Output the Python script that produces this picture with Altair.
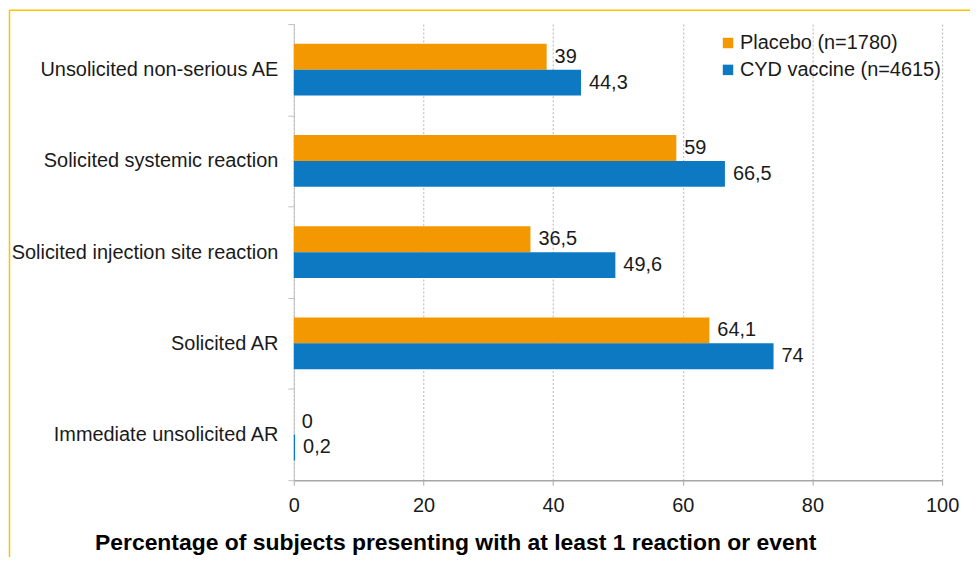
import altair as alt
import pandas as pd

categories = [
    "Unsolicited non-serious AE",
    "Solicited systemic reaction",
    "Solicited injection site reaction",
    "Solicited AR",
    "Immediate unsolicited AR",
]
series = ["Placebo (n=1780)", "CYD vaccine (n=4615)"]
placebo = [39, 59, 36.5, 64.1, 0]
cyd = [44.3, 66.5, 49.6, 74, 0.2]
placebo_labels = ["39", "59", "36,5", "64,1", "0"]
cyd_labels = ["44,3", "66,5", "49,6", "74", "0,2"]
colors = ["#F39800", "#0E79C3"]
x_ticks = [0, 20, 40, 60, 80, 100]
x_title = "Percentage of subjects presenting with at least 1 reaction or event"

rows = []
for c, v, l in zip(categories, placebo, placebo_labels):
    rows.append({"category": c, "series": series[0], "value": v, "label": l})
for c, v, l in zip(categories, cyd, cyd_labels):
    rows.append({"category": c, "series": series[1], "value": v, "label": l})
df = pd.DataFrame(rows)

y_enc = alt.Y(
    "category:N",
    sort=categories,
    scale=alt.Scale(paddingInner=0, paddingOuter=0),
    axis=alt.Axis(
        title=None,
        tickBand="extent",
        labelFontSize=20,
        labelColor="#1a1a1a",
        labelPadding=10,
        tickSize=6,
        tickColor="#c0c0c0",
        domainColor="#c0c0c0",
        labelLimit=400,
        grid=False,
    ),
)
x_enc = alt.X(
    "value:Q",
    scale=alt.Scale(domain=[0, 100]),
    axis=alt.Axis(
        values=x_ticks,
        title=x_title,
        titleFontSize=23,
        titleFontWeight="bold",
        titleColor="#000000",
        titleX=162,
        titleY=70,
        titleAlign="center",
        titleBaseline="alphabetic",
        labelFontSize=20,
        labelColor="#1a1a1a",
        labelPadding=10,
        labelFlush=False,
        tickSize=5,
        tickColor="#a6a6a6",
        domainColor="#a6a6a6",
        domainWidth=1.5,
        grid=True,
        gridColor="#b5b5b5",
        gridDash=[2, 2],
    ),
)
yoff_scale = alt.Scale(domain=series, paddingInner=0, paddingOuter=0.762)
yoff = alt.YOffset("series:N", sort=series, scale=yoff_scale)
color = alt.Color(
    "series:N",
    scale=alt.Scale(domain=series, range=colors),
    legend=alt.Legend(
        title=None,
        orient="none",
        legendX=426,
        legendY=9,
        labelFontSize=20,
        labelColor="#1a1a1a",
        labelLimit=400,
        symbolType="square",
        symbolSize=110,
        symbolStrokeWidth=0,
        rowPadding=7,
        labelOffset=2,
    ),
)

base = alt.Chart(df)
bars = base.mark_bar().encode(x=x_enc, y=y_enc, yOffset=yoff, color=color)
texts = base.mark_text(align="left", baseline="middle", dx=8, fontSize=20, color="#1a1a1a").encode(
    x="value:Q",
    y=alt.Y("category:N", sort=categories),
    yOffset=alt.YOffset("series:N", sort=series),
    text="label:N",
)

frame_df = pd.DataFrame({"k": [0]})
top_rule = alt.Chart(frame_df).mark_rule(color="#FFC000", strokeWidth=1.5).encode(
    x=alt.value(-285.5), x2=alt.value(700), y=alt.value(-14)
)
left_rule = alt.Chart(frame_df).mark_rule(color="#FFC000", strokeWidth=1.5).encode(
    x=alt.value(-285.5), y=alt.value(-14), y2=alt.value(600)
)

chart = (
    alt.layer(bars, texts, top_rule, left_rule)
    .properties(
        width=651,
        height=458,
        autosize=alt.AutoSizeParams(type="none"),
        padding={"left": 287, "top": 15, "right": 28, "bottom": 76},
    )
    .configure(font="Liberation Sans")
    .configure_view(stroke=None)
)

chart.save("out.html", embed_options={"renderer": "svg", "actions": False})
